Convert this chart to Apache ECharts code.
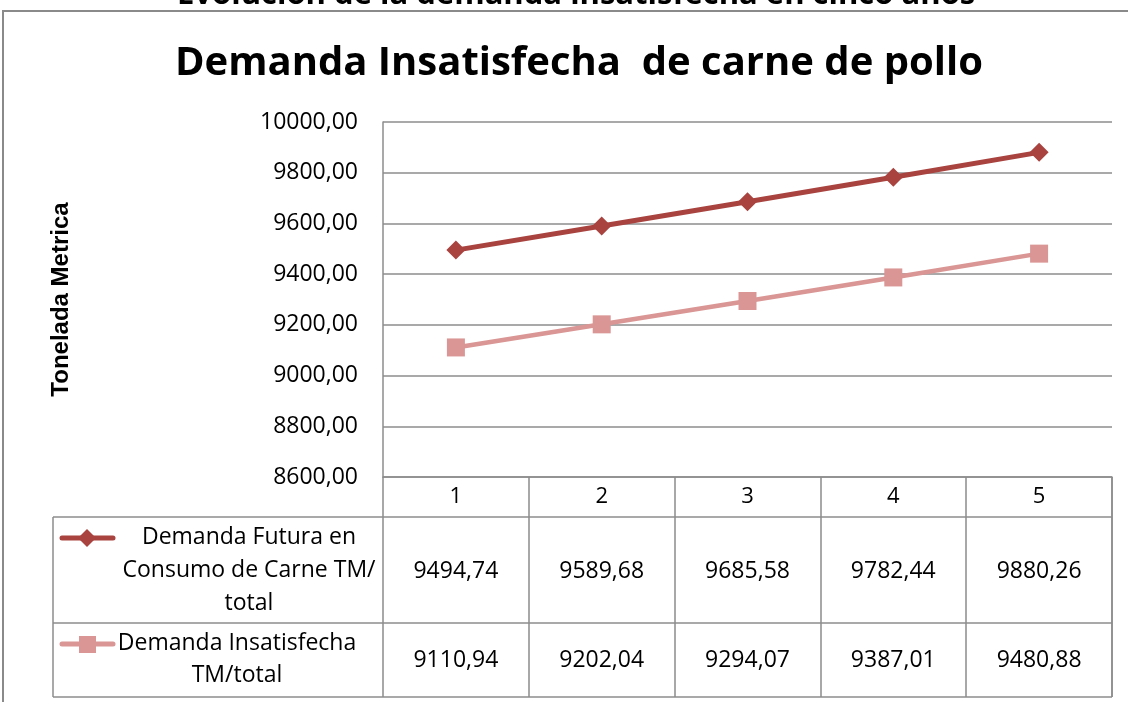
<!DOCTYPE html>
<html>
<head>
<meta charset="utf-8">
<script src="https://cdn.jsdelivr.net/npm/echarts@6/dist/echarts.min.js"></script>
<style>
  html, body { margin: 0; padding: 0; background: #fff; }
  #chart { width: 1128px; height: 702px; }
</style>
</head>
<body>
<div id="chart"></div>
<script>
const categories = ['1', '2', '3', '4', '5']
const demandaFutura = [9494.74, 9589.68, 9685.58, 9782.44, 9880.26]
const demandaInsatisfecha = [9110.94, 9202.04, 9294.07, 9387.01, 9480.88]
const seriesNames = ['Demanda Futura en\nConsumo de Carne TM/\ntotal', 'Demanda Insatisfecha\nTM/total']
const yTicks = { min: 8600, max: 10000, interval: 200 }

const FONT = '"Open Sans", "Noto Sans", sans-serif'
const colorFutura = '#A8433F'
const colorInsat = '#D99694'
const gridColor = '#8c8c8c'

const fmt = v => v.toFixed(2).replace('.', ',')

const chart = echarts.init(document.getElementById('chart'))

const option = {
  animation: false,
  title: [
    {
      text: 'Evolución de la demanda insatisfecha en cinco años',
      left: 172,
      top: -25,
      textStyle: { fontFamily: FONT, fontSize: 31, fontWeight: 'bold', color: '#000' }
    },
    {
      text: 'Demanda Insatisfecha  de carne de pollo',
      left: 170,
      top: 39,
      textStyle: { fontFamily: FONT, fontSize: 40, fontWeight: 'bold', color: '#000' }
    }
  ],
  grid: { left: 383, right: 16, top: 122, bottom: 225 },
  xAxis: {
    type: 'category',
    data: categories,
    boundaryGap: true,
    axisLine: { lineStyle: { color: gridColor, width: 1.5 } },
    axisTick: { show: true, length: 220, lineStyle: { color: gridColor, width: 1.5 } },
    axisLabel: { color: '#000', fontFamily: FONT, fontSize: 22, margin: 9 }
  },
  yAxis: {
    type: 'value',
    min: yTicks.min,
    max: yTicks.max,
    interval: yTicks.interval,
    name: 'Tonelada Metrica',
    nameLocation: 'middle',
    nameGap: 310,
    nameRotate: 90,
    nameTextStyle: { fontFamily: '"Liberation Sans", Arial, sans-serif', fontSize: 24, fontWeight: 'bold', color: '#000' },
    axisLine: { show: true, lineStyle: { color: gridColor, width: 1.5 } },
    axisTick: { show: false },
    splitLine: { lineStyle: { color: gridColor, width: 1.5 } },
    axisLabel: { color: '#000', fontFamily: FONT, fontSize: 23, margin: 25, formatter: v => fmt(v) }
  },
  series: [
    {
      name: seriesNames[0],
      type: 'line',
      data: demandaFutura,
      symbol: 'diamond',
      symbolSize: 19,
      lineStyle: { color: colorFutura, width: 5 },
      itemStyle: { color: colorFutura }
    },
    {
      name: seriesNames[1],
      type: 'line',
      data: demandaInsatisfecha,
      symbol: 'rect',
      symbolSize: 18,
      lineStyle: { color: colorInsat, width: 4.5 },
      itemStyle: { color: colorInsat }
    }
  ]
}

chart.setOption(option)

// data table under the plot, columns follow the category axis
const tableLeft = 53
const tableRight = 1112
const rowTops = [517, 623, 697]
const lineStyle = { stroke: gridColor, lineWidth: 1.5 }

const buildTable = () => {
  const elements = []
  // outer chart frame
  elements.push({ type: 'rect', shape: { x: 3, y: 11, width: 1140, height: 720 }, style: { fill: null, stroke: '#8a8a8a', lineWidth: 2 }, silent: true })
  rowTops.forEach(y => {
    elements.push({ type: 'line', shape: { x1: tableLeft, y1: y, x2: tableRight, y2: y }, style: lineStyle })
  })
  elements.push({ type: 'line', shape: { x1: tableLeft, y1: rowTops[0], x2: tableLeft, y2: rowTops[2] }, style: lineStyle })
  elements.push({ type: 'line', shape: { x1: tableRight, y1: 477, x2: tableRight, y2: rowTops[2] }, style: lineStyle })

  const rows = [demandaFutura, demandaInsatisfecha]
  const rowCenters = [571, 660]
  rows.forEach((vals, r) => {
    vals.forEach((v, i) => {
      const x = chart.convertToPixel({ xAxisIndex: 0 }, categories[i])
      elements.push({
        type: 'text',
        x: x, y: rowCenters[r],
        style: { text: fmt(v), fontFamily: FONT, fontSize: 23, fill: '#000', align: 'center', verticalAlign: 'middle' }
      })
    })
  })

  // row headers with legend keys
  elements.push({
    type: 'text', x: 249, y: 570,
    style: { text: seriesNames[0], fontFamily: FONT, fontSize: 23, lineHeight: 33, fill: '#000', align: 'center', verticalAlign: 'middle' }
  })
  elements.push({
    type: 'text', x: 237, y: 659,
    style: { text: seriesNames[1], fontFamily: FONT, fontSize: 23, lineHeight: 32, fill: '#000', align: 'center', verticalAlign: 'middle' }
  })
  elements.push({ type: 'line', shape: { x1: 62, y1: 538, x2: 113, y2: 538 }, style: { stroke: colorFutura, lineWidth: 5, lineCap: 'round' } })
  elements.push({ type: 'polygon', shape: { points: [[87, 529], [96, 538], [87, 547], [78, 538]] }, style: { fill: colorFutura } })
  elements.push({ type: 'line', shape: { x1: 62, y1: 644, x2: 113, y2: 644 }, style: { stroke: colorInsat, lineWidth: 5, lineCap: 'round' } })
  elements.push({ type: 'rect', shape: { x: 79, y: 636, width: 17, height: 17 }, style: { fill: colorInsat } })

  chart.setOption({ graphic: { elements } })
}

buildTable()
</script>
</body>
</html>
